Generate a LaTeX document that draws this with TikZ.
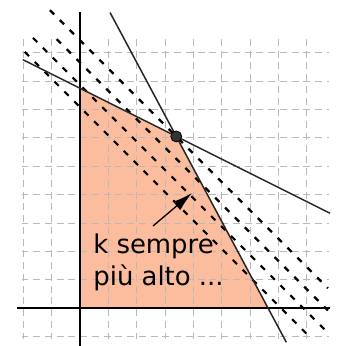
\documentclass[tikz,border=0pt]{standalone}
\usepackage{fontspec}
\setmainfont{DejaVu Sans}
\usetikzlibrary{arrows.meta}
\definecolor{amRegione}{RGB}{252,189,158}
\definecolor{amGriglia}{RGB}{185,185,185}

\begin{document}
\begin{tikzpicture}[x=23.5bp, y=23.5bp,
    gridline/.style={draw=amGriglia, line width=0.9bp, dash pattern=on 7bp off 4.75bp, dash phase=1bp},
    axis/.style={draw=black, line width=1.5bp},
    vincolo/.style={draw=black!85, line width=1.5bp},
    isoline/.style={draw=black, line width=2.2bp, dash pattern=on 6bp off 8bp},
    regione/.style={fill=amRegione},
    testo/.style={font=\fontsize{26}{33}\selectfont, anchor=base west, inner sep=0pt},
    ottimo/.style={circle, fill=black!80, draw=black, line width=0.8bp, minimum size=11bp, inner sep=0pt}
  ]
    \useasboundingbox (-3.404,-1.617) rectangle (10.936,13.106);
    \fill[regione] (0,0) -- (0,9.35) -- (4.095,7.30) -- (8,0) -- cycle;
    \draw[gridline] (-2.45,-1.3) grid (10.6,11.55);
    \draw[isoline] (-1.28,12.675) -- (10.55,0.845);
    \draw[isoline] (-0.99,11.435) -- (10.55,-0.105);
    \draw[isoline] (-2,11.495) -- (10.55,-1.055);
    \draw[isoline] (-2.35,10.895) -- (9.8,-1.255);
    \draw[axis] (-2.68,0) -- (10.64,0);
    \draw[axis] (0,12.6) -- (0,-1.617);
    \draw[vincolo] (1.28,12.57) -- (8.78,-1.46);
    \draw[vincolo] (-2.43,10.565) -- (10.64,4.03);
    \node[ottimo] (vertice) at (4.095,7.30) {};
    \node[testo] (riga1) at (0.56,2.34) {k sempre};
    \node[testo] (riga2) at (0.56,0.94) {più alto ...};
    \coordinate (coda) at (3.106,3.489);
    \coordinate (punta) at (4.766,4.894);
    \draw[line width=1.3bp, -{Latex[length=20bp, width=11bp]}] (coda) -- (punta);
  \end{tikzpicture}
\end{document}
